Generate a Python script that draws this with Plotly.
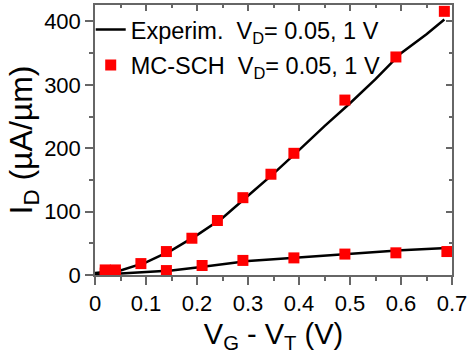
import plotly.graph_objects as go

# Experimental curves (solid lines)
exp_hi_x = [0, 0.05, 0.1, 0.15, 0.2, 0.25, 0.3, 0.35, 0.4, 0.45, 0.5, 0.55, 0.6, 0.65, 0.685]
exp_hi_y = [3, 7, 20, 39, 63, 90, 125, 160, 197, 235, 271, 309, 350, 380, 403]
exp_lo_x = [0, 0.05, 0.1, 0.15, 0.2, 0.25, 0.3, 0.35, 0.4, 0.45, 0.5, 0.55, 0.6, 0.65, 0.7]
exp_lo_y = [0, 2, 4, 7, 12, 17, 22, 25, 28, 31, 34, 36, 39, 41, 43]

# MC-SCH simulation points (red squares)
mc_hi_x = [0.02, 0.04, 0.09, 0.14, 0.19, 0.24, 0.29, 0.345, 0.39, 0.49, 0.59, 0.685]
mc_hi_y = [8, 8, 18, 37, 58, 86, 122, 159, 192, 276, 344, 416]
mc_lo_x = [0.02, 0.04, 0.14, 0.21, 0.29, 0.39, 0.49, 0.59, 0.69]
mc_lo_y = [3, 3, 7, 15, 23, 27, 33, 35, 37]

x_ticks = [0, 0.1, 0.2, 0.3, 0.4, 0.5, 0.6, 0.7]
y_ticks = [0, 100, 200, 300, 400]

FONT = "Liberation Sans, Arial, sans-serif"
NB = "\u00a0"

fig = go.Figure()
fig.add_trace(go.Scatter(
    x=exp_hi_x + [None] + exp_lo_x, y=exp_hi_y + [None] + exp_lo_y,
    mode="lines", line=dict(color="black", width=2.5),
    name="Experim." + NB + NB + "V<sub>D</sub>= 0.05, 1 V", legendgroup="a"))
fig.add_trace(go.Scatter(
    x=mc_hi_x + mc_lo_x, y=mc_hi_y + mc_lo_y,
    mode="markers", marker=dict(symbol="square", size=11, color="#ff0000"),
    name="MC-SCH" + NB + NB + "V<sub>D</sub>= 0.05, 1 V", legendgroup="b"))
# invisible trace to activate mirror axes
fig.add_trace(go.Scatter(x=[None], y=[None], xaxis="x2", yaxis="y2",
                         showlegend=False, hoverinfo="skip"))

axcol = "#666666"
common = dict(showline=True, linecolor=axcol, linewidth=1.5, showgrid=False,
              zeroline=False, tickcolor=axcol, tickwidth=1.5)

fig.update_layout(
    width=472, height=354,
    margin=dict(l=95, r=17, t=5, b=79),
    paper_bgcolor="white", plot_bgcolor="white",
    font=dict(family=FONT, color="black", size=22),
    showlegend=True,
    legend=dict(x=-0.012, y=0.99, xanchor="left", yanchor="top",
                bgcolor="rgba(0,0,0,0)", font=dict(size=23.5),
                traceorder="grouped", tracegroupgap=2),
    xaxis=dict(range=[0, 0.7], tickvals=x_ticks, ticktext=[str(v) if v else "0" for v in x_ticks],
               ticks="outside", ticklen=8,
               minor=dict(dtick=0.05, ticks="outside", ticklen=4, tickcolor=axcol),
               title=dict(text="V<sub>G</sub> - V<sub>T</sub> (V)", font=dict(size=29), standoff=9),
               **common),
    yaxis=dict(range=[0, 426], tickvals=y_ticks, ticks="outside", ticklen=8,
               minor=dict(dtick=50, ticks="outside", ticklen=4, tickcolor=axcol),
               title=dict(text="I<sub>D</sub> (µA/µm)", font=dict(size=32), standoff=0),
               **common),
    xaxis2=dict(range=[0, 0.7], overlaying="x", side="top", anchor="y",
                tickvals=x_ticks, showticklabels=False, ticks="inside", ticklen=6,
                minor=dict(dtick=0.05, ticks="inside", ticklen=3, tickcolor=axcol),
                **common),
    yaxis2=dict(range=[0, 426], overlaying="y", side="right", anchor="x",
                tickvals=y_ticks, showticklabels=False, ticks="inside", ticklen=6,
                minor=dict(dtick=50, ticks="inside", ticklen=3, tickcolor=axcol),
                **common),
)

fig.write_html("out.html", config={"displayModeBar": False},
               post_script="document.body.style.margin='0';document.body.style.overflow='hidden';")
